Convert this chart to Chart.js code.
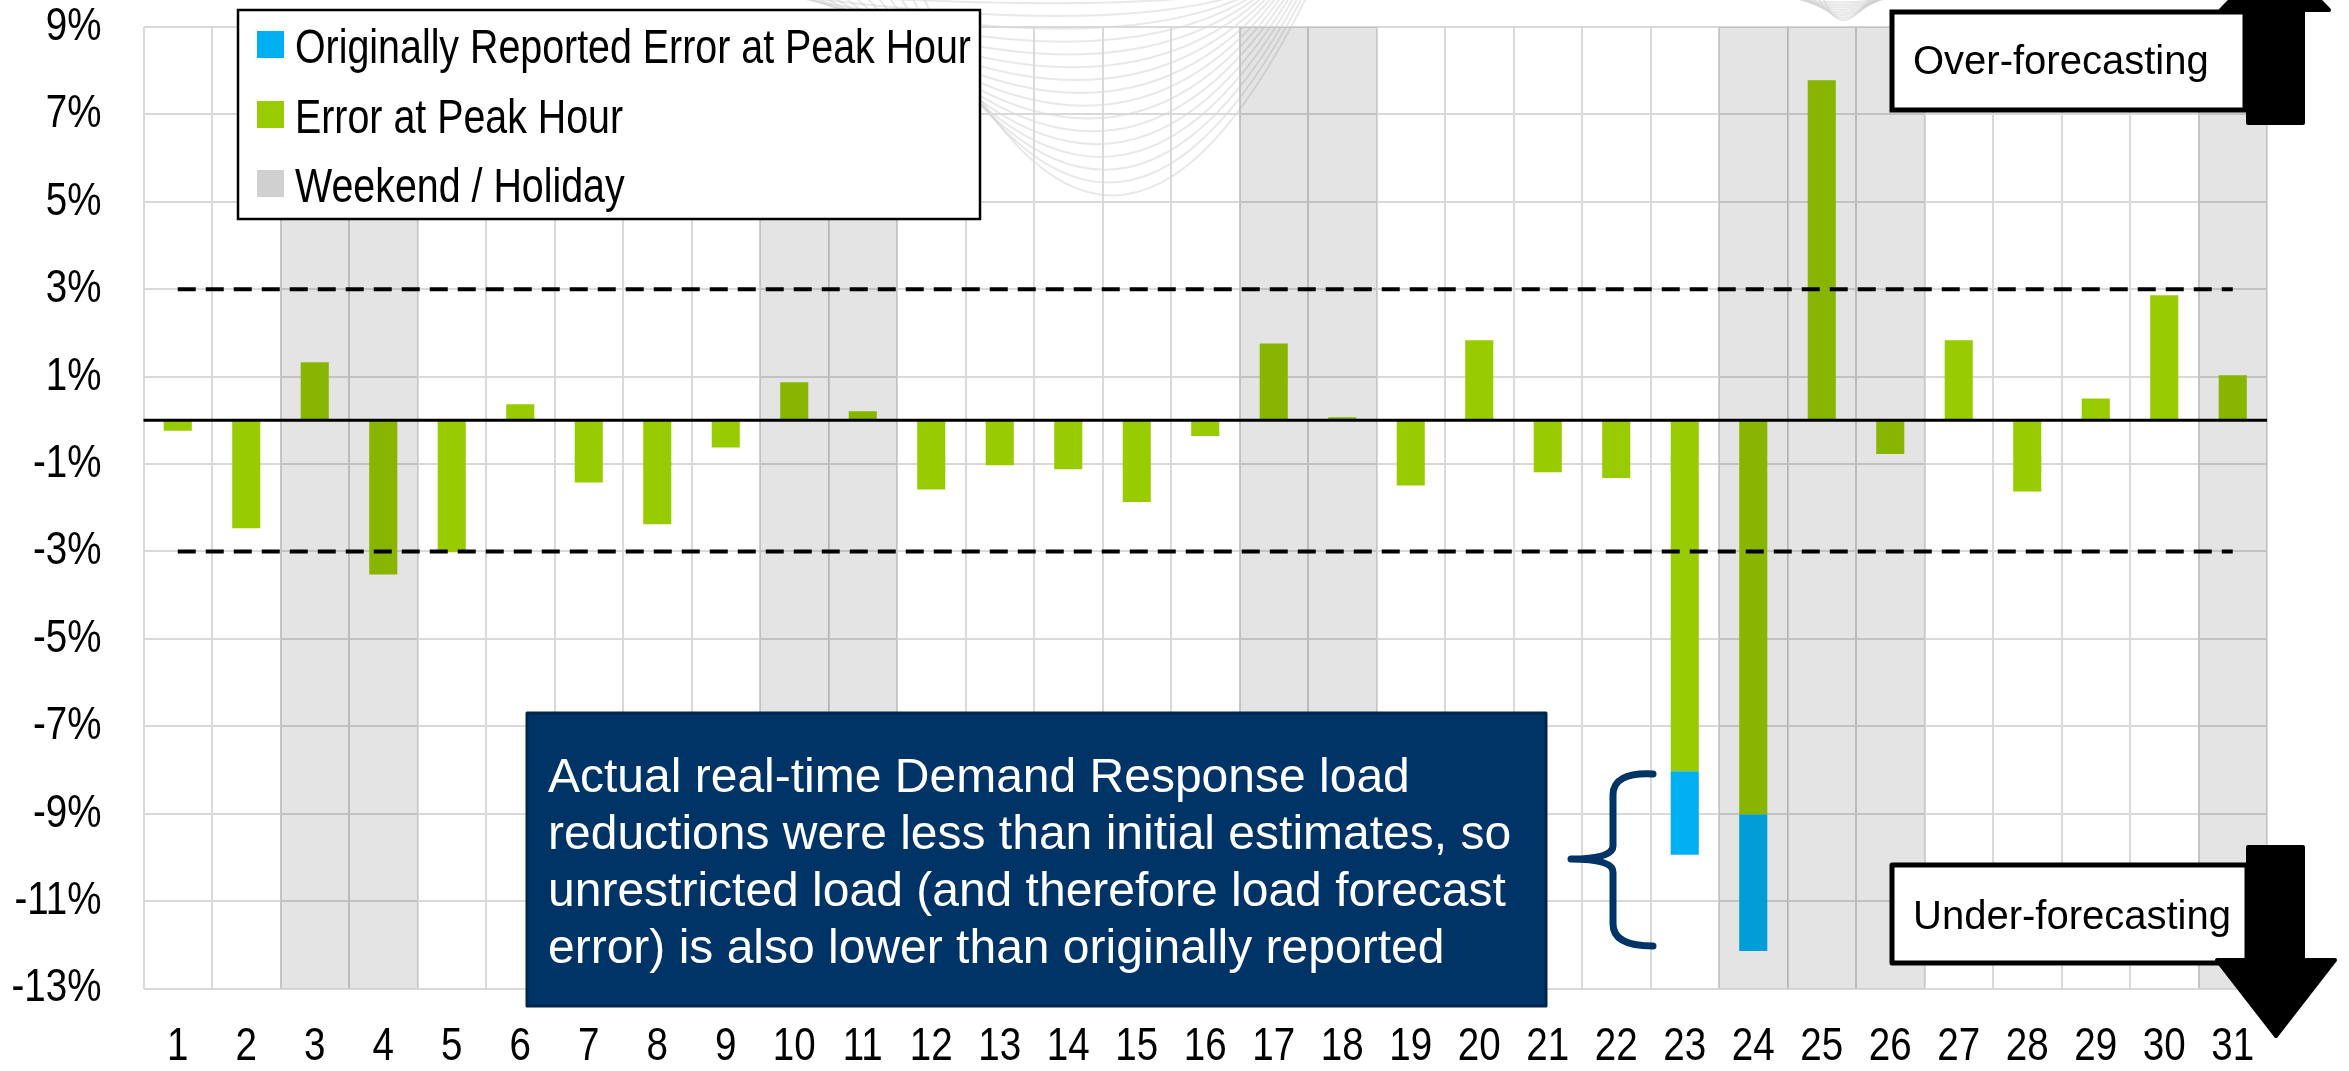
<!DOCTYPE html>
<html>
<head>
<meta charset="utf-8">
<script src="https://cdn.jsdelivr.net/npm/chart.js@4.4.1/dist/chart.umd.min.js"></script>
<style>
  html, body { margin: 0; padding: 0; background: #fff; }
  #wrap { position: relative; width: 2349px; height: 1071px; }
</style>
</head>
<body>
<div id="wrap"><canvas id="grafico"></canvas></div>
<script>
// data (percent)
var dias = ['1','2','3','4','5','6','7','8','9','10','11','12','13','14','15','16',
            '17','18','19','20','21','22','23','24','25','26','27','28','29','30','31'];
var errorPico = [-0.24, -2.47, 1.33, -3.53, -3.02, 0.37, -1.42, -2.38, -0.62, 0.87, 0.21,
                 -1.58, -1.03, -1.12, -1.87, -0.36, 1.76, 0.07, -1.49, 1.83, -1.19, -1.32,
                 -8.03, -9.02, 7.78, -0.77, 1.83, -1.63, 0.50, 2.86, 1.03];
var errorOriginal = [null, null, null, null, null, null, null, null, null, null, null,
                     null, null, null, null, null, null, null, null, null, null, null,
                     -9.94, -12.14, null, null, null, null, null, null, null];
var finesSemana = [3, 4, 10, 11, 17, 18, 24, 25, 26, 31];
var banda = [3, -3];
var ejeY = [-13, 9, 2];

var etiquetas = ['Originally Reported Error at Peak Hour', 'Error at Peak Hour', 'Weekend / Holiday'];
var nota = ['Actual real-time Demand Response load',
            'reductions were less than initial estimates, so',
            'unrestricted load (and therefore load forecast',
            'error) is also lower than originally reported'];

var narrow = "'Liberation Sans Narrow', 'Liberation Sans', Arial, sans-serif";
var normal = "'Liberation Sans', Arial, sans-serif";

var azulTramo = [];
for (var i = 0; i < dias.length; i++) {
  azulTramo.push(errorOriginal[i] === null ? null : [errorPico[i], errorOriginal[i]]);
}
var sombra = dias.map(function(d){
  return finesSemana.indexOf(Number(d)) >= 0 ? [ejeY[0], ejeY[1]] : null;
});

// no narrow font installed: squeeze text set in the "Narrow" family
var lienzo = document.getElementById('grafico');
var c2d = lienzo.getContext('2d');
var fillOrig = c2d.fillText;
c2d.fillText = function(t, x, y, mw){
  if (this.font.indexOf('Narrow') >= 0) {
    this.save();
    this.translate(x, y);
    this.scale(0.82, 1);
    fillOrig.call(this, t, 0, 0);
    this.restore();
  } else if (mw === undefined) {
    fillOrig.call(this, t, x, y);
  } else {
    fillOrig.call(this, t, x, y, mw);
  }
};

var fondo = {
  id: 'fondo',
  beforeDraw: function(chart){
    var c = chart.ctx;
    c.save();
    c.fillStyle = '#fff';
    c.fillRect(0, 0, chart.width, chart.height);
    // faint swirl in the background
    c.strokeStyle = 'rgba(205,205,205,0.45)';
    c.lineWidth = 2;
    for (var k = 0; k < 16; k++) {
      var ym = 8 + k * 12.5;
      c.beginPath();
      c.moveTo(740 + k * 12, -10);
      c.quadraticCurveTo(1110, ym * 2.05, 1250 + k * 4, -10);
      c.stroke();
    }
    for (var k = 0; k < 8; k++) {
      c.beginPath();
      c.moveTo(1780 + k * 6, -5);
      c.quadraticCurveTo(1840, 10 + k * 5, 1900 - k * 4, -5);
      c.stroke();
    }
    c.restore();
  }
};

var extras = {
  id: 'extras',
  afterDatasetsDraw: function(chart){
    var c = chart.ctx, a = chart.chartArea;
    var y0 = chart.scales.y.getPixelForValue(0);
    c.save();
    c.strokeStyle = '#000';
    c.lineWidth = 3;
    c.beginPath();
    c.moveTo(a.left, y0);
    c.lineTo(a.right, y0);
    c.stroke();
    c.restore();
  },
  afterDraw: function(chart){
    var c = chart.ctx;
    c.save();

    // legend
    c.fillStyle = '#fff';
    c.fillRect(238, 10, 742, 209);
    c.strokeStyle = '#000';
    c.lineWidth = 2.5;
    c.strokeRect(238, 10, 742, 209);
    var cols = ['#00B0F0', '#99CC00', '#D0D0D0'];
    var base = [63, 133, 202];
    c.font = '48px ' + narrow;
    c.textBaseline = 'alphabetic';
    c.textAlign = 'left';
    for (var i = 0; i < 3; i++) {
      c.fillStyle = cols[i];
      c.fillRect(257, base[i] - 32, 27, 27);
      c.fillStyle = '#000';
      c.fillText(etiquetas[i], 295, base[i]);
    }

    // over-forecasting
    c.fillStyle = '#fff';
    c.fillRect(1892, 12, 353, 98);
    c.strokeStyle = '#000';
    c.lineWidth = 5;
    c.strokeRect(1892, 12, 353, 98);
    c.fillStyle = '#000';
    c.font = '40px ' + normal;
    c.fillText('Over-forecasting', 1913, 74);
    c.lineJoin = 'round';
    c.lineWidth = 4;
    c.beginPath();
    c.moveTo(2248, 123); c.lineTo(2303, 123); c.lineTo(2303, 10);
    c.lineTo(2329, 10); c.lineTo(2275, -46); c.lineTo(2221, 10);
    c.lineTo(2248, 10); c.closePath();
    c.fill(); c.stroke();

    // under-forecasting
    c.fillStyle = '#fff';
    c.fillRect(1892, 865, 355, 98);
    c.strokeStyle = '#000';
    c.lineWidth = 5;
    c.strokeRect(1892, 865, 355, 98);
    c.fillStyle = '#000';
    c.fillText('Under-forecasting', 1913, 929);
    c.lineWidth = 4;
    c.beginPath();
    c.moveTo(2248, 847); c.lineTo(2303, 847); c.lineTo(2303, 960);
    c.lineTo(2335, 960); c.lineTo(2276, 1036); c.lineTo(2217, 960);
    c.lineTo(2248, 960); c.closePath();
    c.fill(); c.stroke();

    // note box
    c.fillStyle = '#003366';
    c.fillRect(527, 713, 1019, 293);
    c.strokeStyle = '#00264D';
    c.lineWidth = 3;
    c.strokeRect(527, 713, 1019, 293);
    c.fillStyle = '#fff';
    c.font = '48px ' + normal;
    for (var j = 0; j < nota.length; j++) {
      c.fillText(nota[j], 548, 792 + j * 57);
    }

    // brace
    c.strokeStyle = '#003366';
    c.lineWidth = 7;
    c.lineCap = 'round';
    c.lineJoin = 'round';
    c.beginPath();
    c.moveTo(1653, 774);
    c.quadraticCurveTo(1613, 772, 1613, 795);
    c.lineTo(1613, 846);
    c.quadraticCurveTo(1613, 859, 1571, 859);
    c.quadraticCurveTo(1613, 859, 1613, 872);
    c.lineTo(1613, 924);
    c.quadraticCurveTo(1613, 946, 1653, 946);
    c.stroke();

    c.restore();
  }
};

function CrearGrafico(){
  var datasets = [{
      type: 'bar', label: 'Weekend / Holiday', data: sombra,
      backgroundColor: 'rgba(0,0,0,0.106)', barPercentage: 1, categoryPercentage: 1, order: 0
    }, {
      type: 'line', label: 'upper', data: dias.map(function(){ return banda[0]; }),
      borderColor: '#000', borderWidth: 4, borderDash: [18, 10], pointRadius: 0, order: 1
    }, {
      type: 'line', label: 'lower', data: dias.map(function(){ return banda[1]; }),
      borderColor: '#000', borderWidth: 4, borderDash: [18, 10], pointRadius: 0, order: 1
    }, {
      type: 'bar', label: etiquetas[0], data: azulTramo,
      backgroundColor: '#00B0F0', barPercentage: 0.82, categoryPercentage: 0.5, order: 2
    }, {
      type: 'bar', label: etiquetas[1], data: errorPico,
      backgroundColor: '#99CC00', barPercentage: 0.82, categoryPercentage: 0.5, order: 3
  }];

  new Chart(lienzo, {
    type: 'bar',
    data: { labels: dias, datasets: datasets },
    plugins: [fondo, extras],
    options: {
      responsive: true,
      maintainAspectRatio: false,
      devicePixelRatio: 1,
      animation: false,
      layout: { padding: { top: 27, right: 82, left: 0, bottom: 0 } },
      plugins: { legend: { display: false }, tooltip: { enabled: false } },
      scales: {
        x: {
          stacked: true,
          grid: { color: '#D9D9D9', lineWidth: 2, drawTicks: false, offset: true },
          border: { display: false },
          ticks: { color: '#000', padding: 35, maxRotation: 0, autoSkip: false,
                   font: { family: narrow, size: 47, lineHeight: 1 } },
          afterFit: function(s){ s.height = 82.5; }
        },
        y: {
          stacked: false,
          min: ejeY[0], max: ejeY[1],
          grid: { color: '#D9D9D9', lineWidth: 2, drawTicks: false },
          border: { display: false },
          ticks: { stepSize: ejeY[2], color: '#000', padding: 42,
                   font: { family: narrow, size: 47, lineHeight: 1 },
                   callback: function(v){ return v + '%'; } },
          afterFit: function(s){ s.width = 143.5; s.paddingTop = 0; s.paddingBottom = 0; }
        }
      }
    }
  });
}

CrearGrafico();
</script>
</body>
</html>
